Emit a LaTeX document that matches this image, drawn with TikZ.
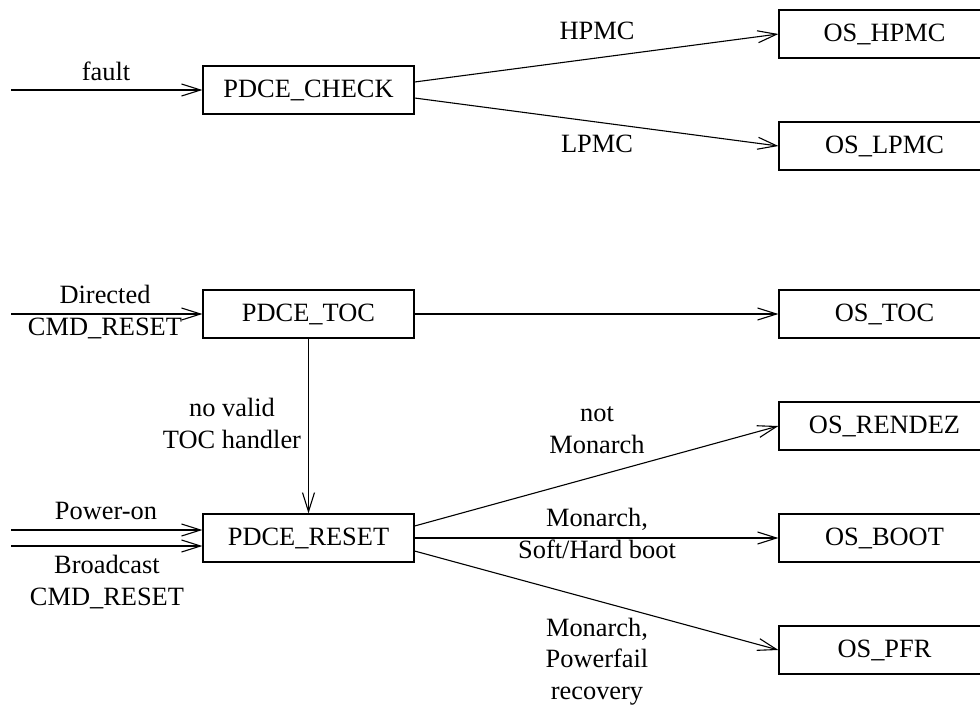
\documentclass[tikz,border=0pt]{standalone}
\usepackage{fontspec}
\setmainfont{Liberation Serif}
\usetikzlibrary{arrows.meta}
\begin{document}
\begin{tikzpicture}[x=1pt,y=-1pt,
  box/.style={draw,line width=1.2pt,minimum width=211pt,minimum height=48pt,inner sep=0pt,font=\fontsize{26.4}{31.5}\selectfont},
  lbl/.style={inner sep=0pt,align=center,anchor=base,font=\fontsize{26.4}{31.5}\selectfont},
  conn/.style={line width=1.1pt,-{Straight Barb[length=19pt,width=12pt,line width=1.1pt]}}]
\useasboundingbox (0,0) rectangle (980,705);
\clip (0,0) rectangle (980,705);
% boxes
\node[box] (check) at (308.5,90) {PDCE\_CHECK};
\node[box] (hpmc) at (884.5,34) {OS\_HPMC};
\node[box] (lpmc) at (884.5,146) {OS\_LPMC};
\node[box] (toc) at (308.5,314) {PDCE\_TOC};
\node[box] (ostoc) at (884.5,314) {OS\_TOC};
\node[box] (rendez) at (884.5,426) {OS\_RENDEZ};
\node[box] (reset) at (308.5,538) {PDCE\_RESET};
\node[box] (boot) at (884.5,538) {OS\_BOOT};
\node[box] (pfr) at (884.5,650) {OS\_PFR};
% free ends
\coordinate (infault) at (11,90);
\coordinate (indir) at (11,314);
\coordinate (inpow) at (11,530);
\coordinate (inbc) at (11,546);
% connectors
\draw[conn] (infault) -- (check.west);
\draw[conn] ([yshift=8pt]check.east) -- (hpmc.west);
\draw[conn] ([yshift=-8pt]check.east) -- (lpmc.west);
\draw[conn] (indir) -- (toc.west);
\draw[conn] (toc.east) -- (ostoc.west);
\draw[conn] (toc.south) -- (reset.north);
\draw[conn] (inpow) -- ([yshift=8pt]reset.west);
\draw[conn] (inbc) -- ([yshift=-8pt]reset.west);
\draw[conn] ([yshift=12pt]reset.east) -- (rendez.west);
\draw[conn] (reset.east) -- (boot.west);
\draw[conn] ([yshift=-13pt]reset.east) -- (pfr.west);
% labels (base = last line baseline)
\node[lbl] (lfault) at (106,80) {fault};
\node[lbl] (lhpmc) at (597,39) {HPMC};
\node[lbl] (llpmc) at (597,152) {LPMC};
\node[lbl] (ldir) at (105,335) {Directed\\CMD\_RESET};
\node[lbl] (lnovalid) at (232,448) {no valid\\TOC handler};
\node[lbl] (lpow) at (106,519) {Power-on};
\node[lbl] (lbc) at (107,605) {Broadcast\\CMD\_RESET};
\node[lbl] (lnot) at (597,453) {not\\Monarch};
\node[lbl] (lsoft) at (597,558) {Monarch,\\Soft/Hard boot};
\node[lbl] (lpf) at (597,699) {Monarch,\\Powerfail\\recovery};
\end{tikzpicture}
\end{document}
